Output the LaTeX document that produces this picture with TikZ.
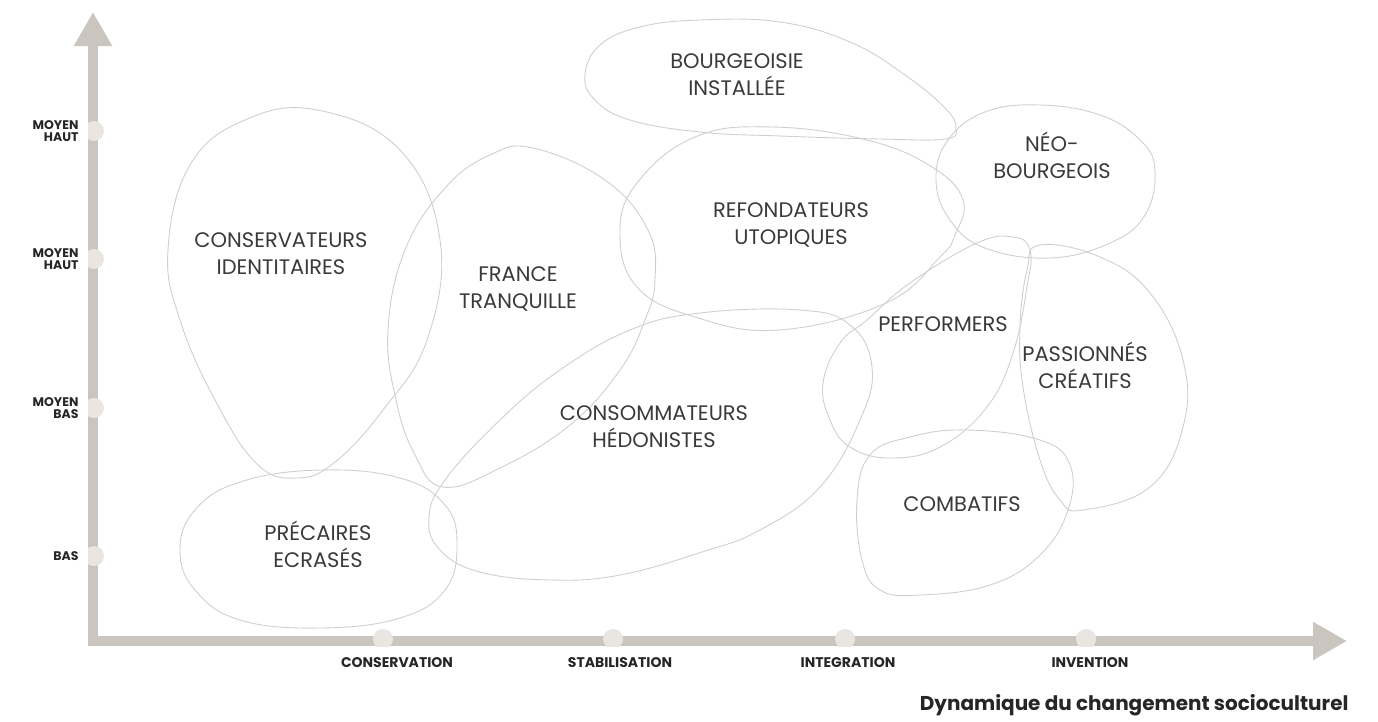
\documentclass[tikz,border=0pt]{standalone}
\usepackage{fontspec}
\setmainfont{Poppins}
\usetikzlibrary{arrows.meta}
\definecolor{axisgray}{HTML}{CBC5BF}
\definecolor{tickgray}{HTML}{E9E5E1}
\definecolor{blobline}{HTML}{CFCFCF}
\definecolor{labeltext}{HTML}{3A3A3A}
\tikzset{
  blob/.style={draw=blobline,line width=0.9pt},
  group/.style={align=center,text=labeltext,font=\fontsize{21}{27}\selectfont},
  level/.style={align=right,anchor=east,text=black!85,font=\fontsize{12.5}{12}\selectfont\bfseries},
  phase/.style={text=black!85,font=\fontsize{14}{16}\selectfont\bfseries},
  axis/.style={axisgray,line width=10pt}
}
\begin{document}
\begin{tikzpicture}[x=1pt,y=-1pt]
\useasboundingbox (0,0) rectangle (1378,721);

% axes
\coordinate (O) at (93,641);
\coordinate (ytop) at (93,12);
\coordinate (xend) at (1347,641);
\draw[axis,{Triangle[width=36pt,length=34pt]}-{Triangle[width=36pt,length=34pt]}] (ytop) |- (xend);

\begin{scope}
\clip (88,0) rectangle (120,700);
\foreach \y in {131,259,408,556}
  \fill[tickgray] (94,\y) circle (10pt);
\end{scope}
\begin{scope}
\clip (0,0) rectangle (1378,646);
\foreach \x in {383,613,845,1086}
  \fill[tickgray] (\x,639) circle (10pt);
\end{scope}

% levels and phases
\foreach \y/\txt/\name in {131/MOYEN\\HAUT/lvla,259/MOYEN\\HAUT/lvlb,408/MOYEN\\BAS/lvlc,556/BAS/lvld}
  \node[level] (\name) at (82,\y) {\txt};
\foreach \x/\txt/\name in {397/CONSERVATION/conserv,620/STABILISATION/stabil,848/INTEGRATION/integr,1090/INVENTION/invent}
  \node[phase] (\name) at (\x,663) {\txt};
\node[anchor=east,text=black!85,font=\fontsize{20}{22}\selectfont\bfseries] (title) at (1352,705) {Dynamique du changement socioculturel};

% groups
\draw[blob] plot[smooth cycle,tension=0.7] coordinates {(317,110) (400,150) (440,240) (427,340) (383,410) (335,462) (297,478) (257,464) (215,400) (180,320) (168,250) (190,165) (245,120)};
\draw[blob] plot[smooth cycle,tension=0.7] coordinates {(533,148) (605,180) (648,230) (655,280) (645,320) (620,370) (570,425) (500,468) (443,487) (415,455) (396,400) (388,330) (405,250) (445,188) (490,155)};
\draw[blob] plot[smooth cycle,tension=0.7] coordinates {(585,75) (600,45) (640,27) (700,20) (780,22) (850,42) (905,75) (945,108) (956,128) (945,139) (880,139) (780,136) (700,132) (630,120) (595,100)};
\draw[blob] plot[smooth cycle,tension=0.7] coordinates {(772,127) (867,140) (932,167) (963,200) (955,235) (940,257) (886,303) (779,330) (695,317) (637,287) (620,233) (637,183) (695,137)};
\draw[blob] plot[smooth cycle,tension=0.7] coordinates {(936,180) (948,140) (985,112) (1040,105) (1100,115) (1140,140) (1155,170) (1145,215) (1110,243) (1050,258) (985,248) (950,220)};
\draw[blob] plot[smooth cycle,tension=0.7] coordinates {(977,243) (1013,237) (1030,250) (1027,287) (1013,353) (987,407) (940,447) (890,458) (850,447) (830,420) (823,383) (840,343) (867,320) (910,283)};
\draw[blob] plot[smooth cycle,tension=0.7] coordinates {(1040,245) (1100,257) (1150,293) (1183,360) (1183,427) (1150,487) (1083,510) (1060,500) (1040,460) (1023,387) (1020,327) (1027,270)};
\draw[blob] plot[smooth cycle,tension=0.7] coordinates {(967,430) (1040,440) (1070,465) (1068,510) (1040,555) (990,585) (920,595) (880,590) (862,560) (857,500) (870,455) (910,437)};
\draw[blob] plot[smooth cycle,tension=0.7] coordinates {(700,313) (800,310) (850,325) (872,367) (860,420) (820,487) (760,530) (702,552) (620,575) (551,580) (480,572) (440,550) (429,518) (445,480) (500,420) (560,370) (630,330)};
\draw[blob] plot[smooth cycle,tension=0.7] coordinates {(320,470) (400,478) (445,505) (457,545) (445,590) (400,618) (320,628) (240,620) (195,590) (180,550) (195,510) (240,482)};

\node[group] (identitaires) at (281,254) {CONSERVATEURS\\IDENTITAIRES};
\node[group] (tranquille) at (518,289) {FRANCE\\TRANQUILLE};
\node[group] (installee) at (737,75) {BOURGEOISIE\\INSTALLÉE};
\node[group] (utopiques) at (791,225) {REFONDATEURS\\UTOPIQUES};
\node[group] (neo) at (1052,155) {NÉO-\\BOURGEOIS};
\node[group] (performers) at (943,324) {PERFORMERS};
\node[group] (passionnes) at (1085,365) {PASSIONNÉS\\CRÉATIFS};
\node[group] (combatifs) at (962,504) {COMBATIFS};
\node[group] (hedonistes) at (654,427) {CONSOMMATEURS\\HÉDONISTES};
\node[group] (precaires) at (318,544) {PRÉCAIRES\\ECRASÉS};
\end{tikzpicture}
\end{document}
